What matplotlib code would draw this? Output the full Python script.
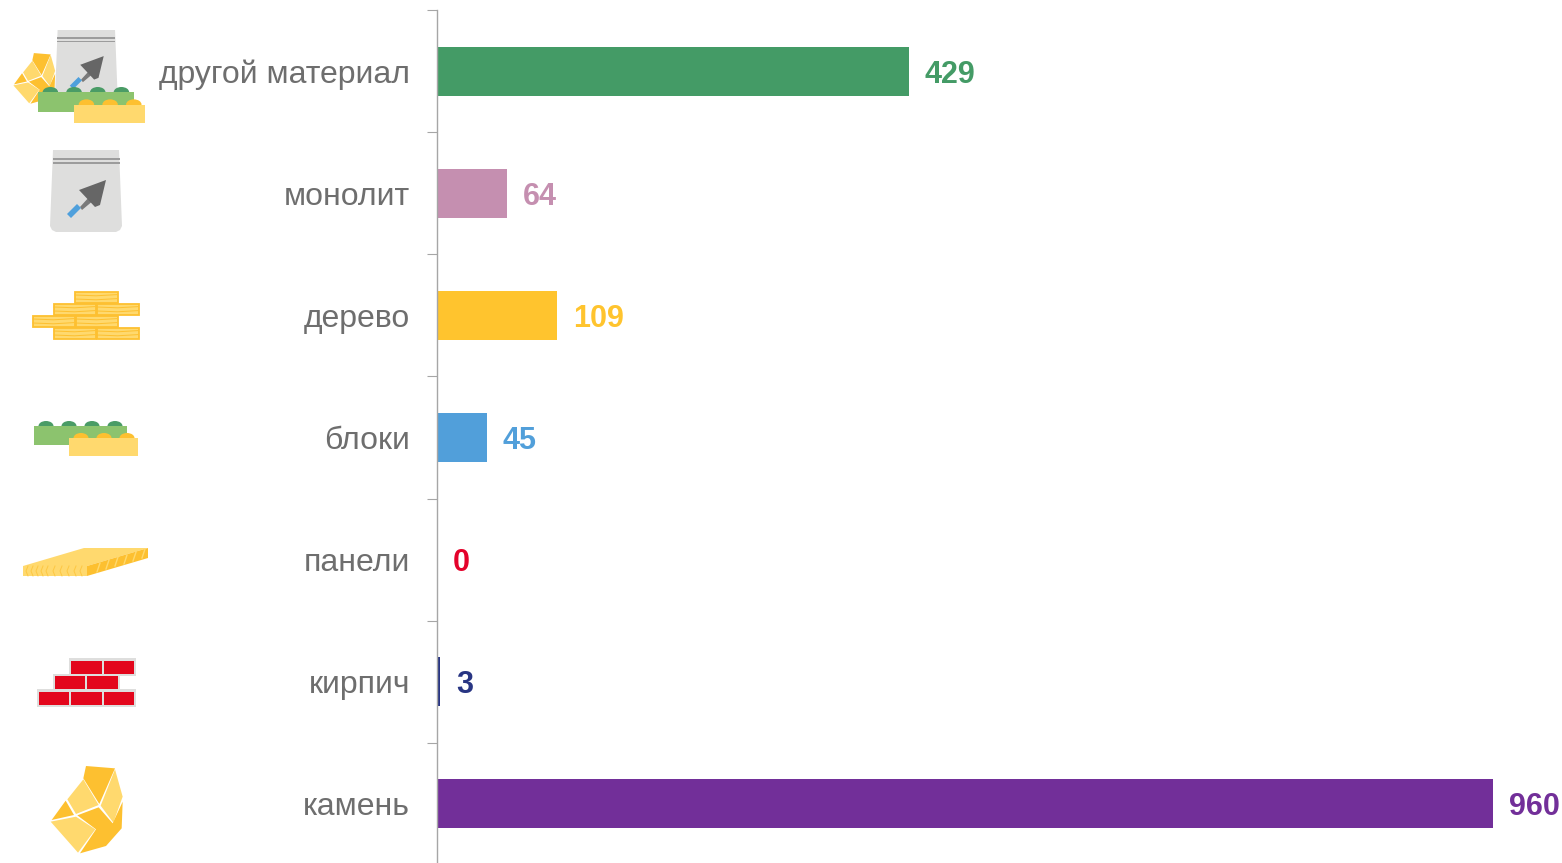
import matplotlib
matplotlib.use('Agg')
import matplotlib.pyplot as plt
from matplotlib.patches import Polygon, Rectangle, Ellipse

plt.rcParams['font.family'] = ['Liberation Sans', 'DejaVu Sans']

# chart data
categories = ['другой материал', 'монолит', 'дерево', 'блоки', 'панели', 'кирпич', 'камень']
values = [429, 64, 109, 45, 0, 3, 960]
colors = ['#449B66', '#C58FB0', '#FFC42E', '#519FDA', '#E4022B', '#283583', '#722F99']

W, H = 1562, 863
LIGHT = '#FFD96E'
ORANGE = '#FDC030'

fig = plt.figure(figsize=(W / 100, H / 100), dpi=100)

# axes placed so one category is 122 px tall and one unit is 1.1 px
ax = fig.add_axes([437 / W, (H - 864.5) / H, 1125 / W, 854 / H])
y = list(range(len(categories)))
ax.barh(y, values, height=0.405, color=colors, zorder=2)
ax.set_xlim(0, 1125 / 1.1)
ax.set_ylim(len(categories) - 0.5, -0.5)

ax.set_yticks([i - 0.5 for i in range(len(categories) + 1)])
ax.set_yticklabels([])
ax.set_yticks(y, categories, minor=True)
ax.tick_params(axis='y', which='major', length=7.2, width=0.8, color='#A6A6A6')
ax.tick_params(axis='y', which='minor', length=0, pad=19.5, labelsize=23, labelcolor='#6E6E6E')
ax.set_xticks([])
for side in ['top', 'right', 'bottom']:
    ax.spines[side].set_visible(False)
ax.spines['left'].set_color('#A6A6A6')
ax.spines['left'].set_linewidth(1.0)
ax.spines['left'].set_zorder(3)

for i, v in enumerate(values):
    ax.annotate(str(v), (v, i), xytext=(11.5, 0), textcoords='offset points',
                va='center_baseline', ha='left', fontsize=22, fontweight='bold', color=colors[i])

# overlay in pixel coordinates for the pictograms
icons = fig.add_axes([0, 0, 1, 1], facecolor='none')
icons.set_xlim(0, W)
icons.set_ylim(H, 0)
icons.axis('off')


def poly(pts, color, ox=0, oy=0, k=1.0, z=2):
    icons.add_patch(Polygon([(ox + px * k, oy + py * k) for px, py in pts], closed=True,
                            fc=color, ec='none', zorder=z))


def rect(x0, y0, x1, y1, color, ox=0, oy=0, k=1.0, z=2, **kw):
    icons.add_patch(Rectangle((ox + x0 * k, oy + y0 * k), (x1 - x0) * k, (y1 - y0) * k,
                              fc=color, ec=kw.get('ec', 'none'), lw=kw.get('lw', 0), zorder=z))


def bag(ox, oy, k=1.0, z=2):
    # origin is the top left of the bag, 72 x 82 px
    poly([(3, 0), (69, 0), (72, 76), (70, 80), (66, 82), (6, 82), (2, 80), (0, 76)], '#DEDEDD', ox, oy, k, z=z)
    rect(2.5, 8.5, 69.5, 10, '#9C9C9C', ox, oy, k, z=z)
    rect(2.5, 12.5, 69.5, 14, '#9C9C9C', ox, oy, k, z=z)
    poly([(40, 46), (44, 50), (32, 60), (30, 57)], '#7A7A7A', ox, oy, k, z=z)
    poly([(27, 54), (31, 58), (21, 68), (17, 64)], '#4FA0DC', ox, oy, k, z=z)
    poly([(56, 30), (29, 40), (45, 57), (50, 55)], '#666666', ox, oy, k, z=z)


def block_pair(ox, oy, k=1.0, z=2):
    # origin is the top left of the green studs
    for sx in [12, 35, 58, 81]:
        icons.add_patch(Ellipse((ox + sx * k, oy + 5 * k), 15 * k, 10 * k, fc='#4A9C66', ec='none', zorder=z))
    rect(0, 5, 93, 24, '#8CC36E', ox, oy, k, z=z)
    for sx in [47, 70, 93]:
        icons.add_patch(Ellipse((ox + sx * k, oy + 17 * k), 15 * k, 10 * k, fc=ORANGE, ec='none', zorder=z))
    rect(35, 17, 104, 35, LIGHT, ox, oy, k, z=z + 1)


def stone(ox, oy, k=1.0, z=2):
    # facets measured on a 3x crop, so they are drawn at a third
    parts = [
        ([(258, 378), (345, 385), (298, 492), (250, 415)], ORANGE),
        ([(345, 388), (368, 470), (340, 548), (302, 497)], LIGHT),
        ([(250, 418), (296, 495), (228, 522), (202, 478)], LIGHT),
        ([(197, 482), (222, 525), (155, 540)], ORANGE),
        ([(296, 502), (338, 550), (368, 485), (365, 565), (318, 618), (240, 640), (288, 568), (232, 526)], ORANGE),
        ([(152, 545), (228, 530), (286, 568), (234, 638)], LIGHT),
    ]
    for pts, c in parts:
        poly([(px / 3, py / 3) for px, py in pts], c, ox, oy, k, z=z)


# другой материал
bag(55, 30, 0.87, z=2)
stone(-16, -20, 0.58, z=3)
block_pair(38, 87, 1.03, z=4)

# монолит
bag(50, 150)

# дерево
planks = [(74, 291, 118, 303), (53, 303, 96, 315), (96, 303, 139, 315), (32, 315, 75, 327),
          (75, 315, 118, 327), (53, 327, 96, 339), (96, 327, 139, 339)]
for x0, y0, x1, y1 in planks:
    rect(x0 + 0.5, y0 + 0.5, x1 - 0.5, y1 - 0.5, LIGHT, ec=ORANGE, lw=1.3)
    for gy in [y0 + 4, y0 + 8]:
        icons.plot([x0 + 1, (x0 + x1) / 2, x1 - 1], [gy, gy + 0.8, gy - 0.4], color=ORANGE, lw=0.7, zorder=3)

# блоки
block_pair(34, 421)

# панели
poly([(23, 566), (84, 548), (148, 548), (87, 566)], LIGHT)
poly([(23, 566), (87, 566), (87, 576), (23, 576)], LIGHT)
poly([(87, 566), (148, 548), (148, 558), (87, 576)], ORANGE)
for gx in [28, 33, 38, 43, 48, 55, 62, 69, 76, 82]:
    icons.plot([gx, gx - 2, gx], [566, 571, 576], color=ORANGE, lw=0.7, alpha=0.7, zorder=3)
for gx, gy in [(97, 563), (106, 560), (115, 557), (124, 555), (133, 552), (142, 549)]:
    icons.plot([gx, gx + 3], [gy + 9, gy], color=LIGHT, lw=1.0, zorder=3)

# кирпич
rect(69, 658, 136, 676, '#DEDEDD')
rect(53, 674, 120, 691, '#DEDEDD')
rect(37, 689, 136, 707, '#DEDEDD')
for x0, x1, y0, y1 in [(71, 102, 661, 674), (104, 134, 661, 674), (55, 85, 676, 689), (87, 118, 676, 689),
                       (39, 69, 692, 705), (71, 102, 692, 705), (104, 134, 692, 705)]:
    rect(x0, y0, x1, y1, '#E3061C', z=3)

# камень
stone(0, 640)

fig.savefig('out.png', dpi=100)
